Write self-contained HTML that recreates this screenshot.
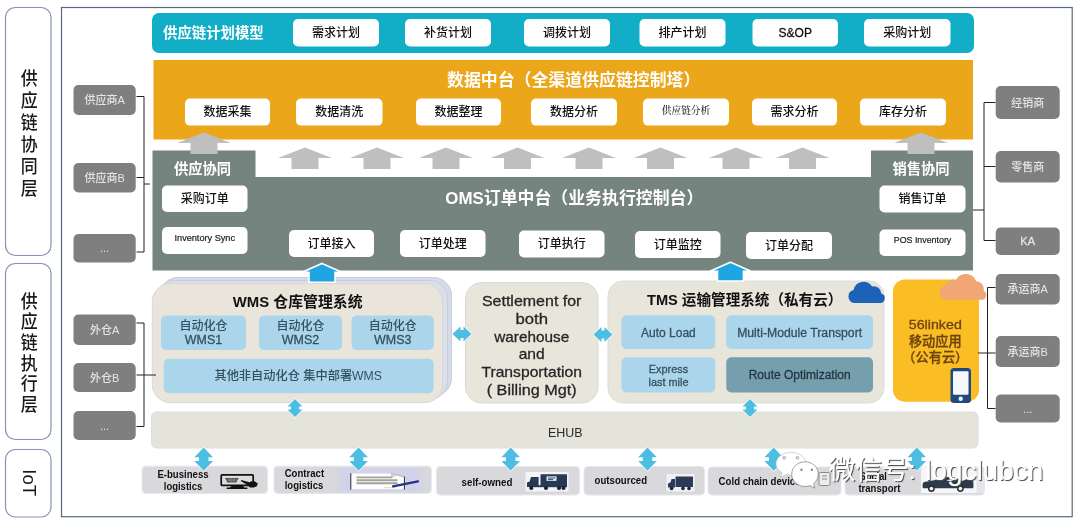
<!DOCTYPE html>
<html lang="zh-CN">
<head>
<meta charset="utf-8">
<title>供应链协同平台架构</title>
<style>
html,body{margin:0;padding:0;background:#fff;}
body{width:1080px;height:521px;overflow:hidden;}
svg{display:block;font-family:"Liberation Sans", "Noto Sans CJK SC", sans-serif;filter:blur(0.6px);}
</style>
</head>
<body>
<svg width="1080" height="521" viewBox="0 0 1080 521">
<rect width="1080" height="521" fill="#fff"/>
<rect x="5.5" y="7.5" width="45.5" height="248" rx="10" ry="10" fill="#fff" stroke="#8792b8" stroke-width="1.2" />
<rect x="5.5" y="263.5" width="45.5" height="176" rx="10" ry="10" fill="#fff" stroke="#8792b8" stroke-width="1.2" />
<rect x="5.5" y="449.5" width="45.5" height="67.5" rx="10" ry="10" fill="#fff" stroke="#8792b8" stroke-width="1.2" />
<rect x="61.5" y="7.5" width="1010.7" height="509.2" rx="0" ry="0" fill="#fff" stroke="#56697f" stroke-width="1.2" />
<text font-size="18.6" fill="#1a1a1a" font-weight="500" text-anchor="middle" dominant-baseline="central" transform="translate(29.2,0) scale(0.91,1)"><tspan x="0" y="78.3">供</tspan><tspan x="0" y="100.45">应</tspan><tspan x="0" y="122.6">链</tspan><tspan x="0" y="144.75">协</tspan><tspan x="0" y="166.9">同</tspan><tspan x="0" y="189.05">层</tspan></text>
<text font-size="18.6" fill="#1a1a1a" font-weight="500" text-anchor="middle" dominant-baseline="central" transform="translate(29.2,0) scale(0.91,1)"><tspan x="0" y="301.5">供</tspan><tspan x="0" y="322.1">应</tspan><tspan x="0" y="342.7">链</tspan><tspan x="0" y="363.3">执</tspan><tspan x="0" y="383.9">行</tspan><tspan x="0" y="404.5">层</tspan></text>
<text x="0" y="0" font-size="18.5" fill="#1a1a1a" text-anchor="middle" dominant-baseline="central" transform="translate(29,482.6) rotate(90)">IoT</text>
<rect x="152" y="13" width="822" height="40" rx="7" ry="7" fill="#12adc6" />
<text x="163" y="33" font-size="14.4" fill="#fff" font-weight="bold" text-anchor="start" dominant-baseline="central" >供应链计划模型</text>
<rect x="293" y="19" width="86" height="27.5" rx="5" ry="5" fill="#fff" />
<text x="336.0" y="32.75" font-size="12" fill="#111" font-weight="500" text-anchor="middle" dominant-baseline="central" >需求计划</text>
<rect x="405" y="19" width="86" height="27.5" rx="5" ry="5" fill="#fff" />
<text x="448.0" y="32.75" font-size="12" fill="#111" font-weight="500" text-anchor="middle" dominant-baseline="central" >补货计划</text>
<rect x="524" y="19" width="86" height="27.5" rx="5" ry="5" fill="#fff" />
<text x="567.0" y="32.75" font-size="12" fill="#111" font-weight="500" text-anchor="middle" dominant-baseline="central" >调拨计划</text>
<rect x="639.5" y="19" width="86.0" height="27.5" rx="5" ry="5" fill="#fff" />
<text x="682.5" y="32.75" font-size="12" fill="#111" font-weight="500" text-anchor="middle" dominant-baseline="central" >排产计划</text>
<rect x="752.5" y="19" width="85.5" height="27.5" rx="5" ry="5" fill="#fff" />
<text x="795.25" y="32.75" font-size="12" fill="#111" font-weight="500" text-anchor="middle" dominant-baseline="central"  stroke="#111" stroke-width="0.28">S&amp;OP</text>
<rect x="864" y="19" width="86.5" height="27.5" rx="5" ry="5" fill="#fff" />
<text x="907.25" y="32.75" font-size="12" fill="#111" font-weight="500" text-anchor="middle" dominant-baseline="central" >采购计划</text>
<rect x="153.5" y="60" width="819.5" height="79.5" rx="0" ry="0" fill="#eca61a" />
<text x="447" y="80.5" font-size="16.9" fill="#fff" font-weight="bold" text-anchor="start" dominant-baseline="central" >数据中台（全渠道供应链控制塔）</text>
<rect x="185" y="98.5" width="85" height="27.099999999999994" rx="5" ry="5" fill="#fff" />
<text x="227.5" y="112.05" font-size="12" fill="#111" font-weight="500" text-anchor="middle" dominant-baseline="central" >数据采集</text>
<rect x="296" y="98.5" width="86.5" height="27.099999999999994" rx="5" ry="5" fill="#fff" />
<text x="339.25" y="112.05" font-size="12" fill="#111" font-weight="500" text-anchor="middle" dominant-baseline="central" >数据清洗</text>
<rect x="416" y="98.5" width="85" height="27.099999999999994" rx="5" ry="5" fill="#fff" />
<text x="458.5" y="112.05" font-size="12" fill="#111" font-weight="500" text-anchor="middle" dominant-baseline="central" >数据整理</text>
<rect x="531" y="98.5" width="86" height="27.099999999999994" rx="5" ry="5" fill="#fff" />
<text x="574.0" y="112.05" font-size="12" fill="#111" font-weight="500" text-anchor="middle" dominant-baseline="central" >数据分析</text>
<rect x="752" y="98.5" width="85" height="27.099999999999994" rx="5" ry="5" fill="#fff" />
<text x="794.5" y="112.05" font-size="12" fill="#111" font-weight="500" text-anchor="middle" dominant-baseline="central" >需求分析</text>
<rect x="860" y="98.5" width="86" height="27.099999999999994" rx="5" ry="5" fill="#fff" />
<text x="903.0" y="112.05" font-size="12" fill="#111" font-weight="500" text-anchor="middle" dominant-baseline="central" >库存分析</text>
<rect x="643" y="98.5" width="86" height="27.099999999999994" rx="5" ry="5" fill="#fff" />
<text x="686.0" y="110.05" font-size="9.7" fill="#222" font-weight="500" text-anchor="middle" dominant-baseline="central" font-family='"Liberation Serif", "Noto Serif CJK SC", serif' >供应链分析</text>
<path d="M305,147.5 L332.0,158.0 L318.5,158.0 L318.5,169 L291.5,169 L291.5,158.0 L278.0,158.0 Z" fill="#bfbfbf"/>
<path d="M377,147.5 L404.0,158.0 L390.5,158.0 L390.5,169 L363.5,169 L363.5,158.0 L350.0,158.0 Z" fill="#bfbfbf"/>
<path d="M446,147.5 L473.0,158.0 L459.5,158.0 L459.5,169 L432.5,169 L432.5,158.0 L419.0,158.0 Z" fill="#bfbfbf"/>
<path d="M517.5,147.5 L544.5,158.0 L531.0,158.0 L531.0,169 L504.0,169 L504.0,158.0 L490.5,158.0 Z" fill="#bfbfbf"/>
<path d="M589,147.5 L616.0,158.0 L602.5,158.0 L602.5,169 L575.5,169 L575.5,158.0 L562.0,158.0 Z" fill="#bfbfbf"/>
<path d="M660.5,147.5 L687.5,158.0 L674.0,158.0 L674.0,169 L647.0,169 L647.0,158.0 L633.5,158.0 Z" fill="#bfbfbf"/>
<path d="M736,147.5 L763.0,158.0 L749.5,158.0 L749.5,169 L722.5,169 L722.5,158.0 L709.0,158.0 Z" fill="#bfbfbf"/>
<path d="M802.5,147.5 L829.5,158.0 L816.0,158.0 L816.0,169 L789.0,169 L789.0,158.0 L775.5,158.0 Z" fill="#bfbfbf"/>
<rect x="152.5" y="177" width="820.5" height="93.5" rx="0" ry="0" fill="#76847f" />
<rect x="152.5" y="150.5" width="103" height="27" rx="0" ry="0" fill="#76847f" />
<rect x="871" y="150.5" width="102" height="27" rx="0" ry="0" fill="#76847f" />
<path d="M204,132.5 L231.0,143.0 L217.5,143.0 L217.5,154 L190.5,154 L190.5,143.0 L177.0,143.0 Z" fill="#bfbfbf"/>
<path d="M921,132.5 L948.0,143.0 L934.5,143.0 L934.5,154 L907.5,154 L907.5,143.0 L894.0,143.0 Z" fill="#bfbfbf"/>
<text x="202.5" y="168.5" font-size="14.3" fill="#fff" font-weight="bold" text-anchor="middle" dominant-baseline="central" >供应协同</text>
<text x="921" y="168.5" font-size="14.3" fill="#fff" font-weight="bold" text-anchor="middle" dominant-baseline="central" >销售协同</text>
<text x="445.3" y="198.2" font-size="16.9" fill="#fff" font-weight="bold" text-anchor="start" dominant-baseline="central" >OMS订单中台（业务执行控制台）</text>
<rect x="162" y="185.5" width="85.5" height="26.5" rx="5" ry="5" fill="#fff" />
<text x="204.75" y="198.75" font-size="12" fill="#111" font-weight="500" text-anchor="middle" dominant-baseline="central" >采购订单</text>
<rect x="162" y="227" width="85.5" height="27" rx="5" ry="5" fill="#fff" />
<text x="174.5" y="238.2" font-size="9" fill="#222" font-weight="500" text-anchor="start" dominant-baseline="central"  stroke="#222" stroke-width="0.2" textLength="60.5" lengthAdjust="spacingAndGlyphs">Inventory Sync</text>
<rect x="879.5" y="185.5" width="86.0" height="27.0" rx="5" ry="5" fill="#fff" />
<text x="922.5" y="199.0" font-size="12" fill="#111" font-weight="500" text-anchor="middle" dominant-baseline="central" >销售订单</text>
<rect x="879.5" y="229.5" width="86.0" height="26.5" rx="5" ry="5" fill="#fff" />
<text x="893.75" y="240.25" font-size="9" fill="#222" font-weight="500" text-anchor="start" dominant-baseline="central"  stroke="#222" stroke-width="0.2" textLength="57.5" lengthAdjust="spacingAndGlyphs">POS Inventory</text>
<rect x="289" y="230" width="85" height="27" rx="5" ry="5" fill="#fff" />
<text x="331.5" y="243.5" font-size="12" fill="#111" font-weight="500" text-anchor="middle" dominant-baseline="central" >订单接入</text>
<rect x="400" y="230" width="85.5" height="27" rx="5" ry="5" fill="#fff" />
<text x="442.75" y="243.5" font-size="12" fill="#111" font-weight="500" text-anchor="middle" dominant-baseline="central" >订单处理</text>
<rect x="519" y="230.5" width="85.5" height="27.0" rx="5" ry="5" fill="#fff" />
<text x="561.75" y="244.0" font-size="12" fill="#111" font-weight="500" text-anchor="middle" dominant-baseline="central" >订单执行</text>
<rect x="635" y="231" width="85.5" height="27" rx="5" ry="5" fill="#fff" />
<text x="677.75" y="244.5" font-size="12" fill="#111" font-weight="500" text-anchor="middle" dominant-baseline="central" >订单监控</text>
<rect x="746" y="232" width="86" height="27" rx="5" ry="5" fill="#fff" />
<text x="789.0" y="245.5" font-size="12" fill="#111" font-weight="500" text-anchor="middle" dominant-baseline="central" >订单分配</text>
<rect x="73.5" y="85" width="62.19999999999999" height="30" rx="5" ry="5" fill="#7f7f7f" />
<text x="104.6" y="100.0" font-size="11" fill="#e4e4e4" font-weight="500" text-anchor="middle" dominant-baseline="central" >供应商A</text>
<rect x="73.5" y="163" width="62.19999999999999" height="29.5" rx="5" ry="5" fill="#7f7f7f" />
<text x="104.6" y="177.75" font-size="11" fill="#e4e4e4" font-weight="500" text-anchor="middle" dominant-baseline="central" >供应商B</text>
<rect x="73.5" y="234" width="62.19999999999999" height="28.5" rx="5" ry="5" fill="#7f7f7f" />
<text x="104.6" y="248.25" font-size="11" fill="#e4e4e4" font-weight="500" text-anchor="middle" dominant-baseline="central" >...</text>
<rect x="73.5" y="314.5" width="62.19999999999999" height="30.5" rx="5" ry="5" fill="#7f7f7f" />
<text x="104.6" y="329.75" font-size="11" fill="#e4e4e4" font-weight="500" text-anchor="middle" dominant-baseline="central" >外仓A</text>
<rect x="73.5" y="363" width="62.19999999999999" height="29" rx="5" ry="5" fill="#7f7f7f" />
<text x="104.6" y="377.5" font-size="11" fill="#e4e4e4" font-weight="500" text-anchor="middle" dominant-baseline="central" >外仓B</text>
<rect x="73.5" y="411" width="62.19999999999999" height="29" rx="5" ry="5" fill="#7f7f7f" />
<text x="104.6" y="425.5" font-size="11" fill="#e4e4e4" font-weight="500" text-anchor="middle" dominant-baseline="central" >...</text>
<rect x="995.7" y="86" width="64.0" height="33" rx="5" ry="5" fill="#7f7f7f" />
<text x="1027.7" y="102.5" font-size="11" fill="#e4e4e4" font-weight="500" text-anchor="middle" dominant-baseline="central" >经销商</text>
<rect x="995.7" y="151" width="64.0" height="31.5" rx="5" ry="5" fill="#7f7f7f" />
<text x="1027.7" y="166.75" font-size="11" fill="#e4e4e4" font-weight="500" text-anchor="middle" dominant-baseline="central" >零售商</text>
<rect x="995.7" y="227.5" width="64.0" height="27.5" rx="5" ry="5" fill="#7f7f7f" />
<text x="1027.7" y="241.25" font-size="11" fill="#e4e4e4" font-weight="500" text-anchor="middle" dominant-baseline="central"  stroke="#e4e4e4" stroke-width="0.28">KA</text>
<rect x="995.7" y="274" width="64.0" height="30.5" rx="5" ry="5" fill="#7f7f7f" />
<text x="1027.7" y="289.25" font-size="11" fill="#e4e4e4" font-weight="500" text-anchor="middle" dominant-baseline="central" >承运商A</text>
<rect x="995.7" y="336" width="64.0" height="31" rx="5" ry="5" fill="#7f7f7f" />
<text x="1027.7" y="351.5" font-size="11" fill="#e4e4e4" font-weight="500" text-anchor="middle" dominant-baseline="central" >承运商B</text>
<rect x="995.7" y="394.5" width="64.0" height="28.0" rx="5" ry="5" fill="#7f7f7f" />
<text x="1027.7" y="408.5" font-size="11" fill="#e4e4e4" font-weight="500" text-anchor="middle" dominant-baseline="central" >...</text>
<rect x="160" y="277.5" width="291.5" height="118.5" rx="18" ry="18" fill="#d6dbe8" stroke="#c8cae2" stroke-width="1" />
<rect x="156.5" y="280.5" width="291" height="119" rx="18" ry="18" fill="#dadfe8" stroke="#cacde2" stroke-width="1" />
<rect x="152.3" y="283.6" width="290.2" height="119" rx="18" ry="18" fill="#e9e5da" stroke="#d6d7e0" stroke-width="1" />
<text x="297.7" y="301.5" font-size="14.9" fill="#111" font-weight="bold" text-anchor="middle" dominant-baseline="central" >WMS 仓库管理系统</text>
<rect x="161" y="315.5" width="85" height="34.5" rx="5" ry="5" fill="#abd5ea" />
<text x="203.5" y="326.3" font-size="12" fill="#33505f" font-weight="500" text-anchor="middle" dominant-baseline="central" >自动化仓</text>
<text x="184.8" y="339.8" font-size="12.3" fill="#33505f" font-weight="500" text-anchor="start" dominant-baseline="central"  stroke="#33505f" stroke-width="0.28" textLength="37.4" lengthAdjust="spacingAndGlyphs">WMS1</text>
<rect x="259" y="315.5" width="83" height="34.5" rx="5" ry="5" fill="#abd5ea" />
<text x="300.5" y="326.3" font-size="12" fill="#33505f" font-weight="500" text-anchor="middle" dominant-baseline="central" >自动化仓</text>
<text x="281.8" y="339.8" font-size="12.3" fill="#33505f" font-weight="500" text-anchor="start" dominant-baseline="central"  stroke="#33505f" stroke-width="0.28" textLength="37.4" lengthAdjust="spacingAndGlyphs">WMS2</text>
<rect x="351.6" y="315.5" width="82.19999999999999" height="34.5" rx="5" ry="5" fill="#abd5ea" />
<text x="392.70000000000005" y="326.3" font-size="12" fill="#33505f" font-weight="500" text-anchor="middle" dominant-baseline="central" >自动化仓</text>
<text x="374.0" y="339.8" font-size="12.3" fill="#33505f" font-weight="500" text-anchor="start" dominant-baseline="central"  stroke="#33505f" stroke-width="0.28" textLength="37.4" lengthAdjust="spacingAndGlyphs">WMS3</text>
<rect x="163.8" y="358.8" width="269.8" height="34.4" rx="5" ry="5" fill="#abd5ea" />
<text x="214.45" y="375.6" font-size="12" fill="#33505f" font-weight="500" text-anchor="start" dominant-baseline="central"  textLength="167.5" lengthAdjust="spacingAndGlyphs">其他非自动化仓 集中部署WMS</text>
<rect x="465.5" y="282.5" width="132.5" height="120.5" rx="16" ry="16" fill="#e8e5db" stroke="#d9d9dc" stroke-width="1" />
<text x="481.95" y="301.2" font-size="14.6" fill="#262626" font-weight="500" text-anchor="start" dominant-baseline="central"  stroke="#262626" stroke-width="0.28" textLength="99.5" lengthAdjust="spacingAndGlyphs">Settlement for</text>
<text x="515.45" y="318.9" font-size="14.6" fill="#262626" font-weight="500" text-anchor="start" dominant-baseline="central"  stroke="#262626" stroke-width="0.28" textLength="32.5" lengthAdjust="spacingAndGlyphs">both</text>
<text x="494.2" y="336.59999999999997" font-size="14.6" fill="#262626" font-weight="500" text-anchor="start" dominant-baseline="central"  stroke="#262626" stroke-width="0.28" textLength="75" lengthAdjust="spacingAndGlyphs">warehouse</text>
<text x="518.7" y="354.29999999999995" font-size="14.6" fill="#262626" font-weight="500" text-anchor="start" dominant-baseline="central"  stroke="#262626" stroke-width="0.28" textLength="26" lengthAdjust="spacingAndGlyphs">and</text>
<text x="481.45" y="372.0" font-size="14.6" fill="#262626" font-weight="500" text-anchor="start" dominant-baseline="central"  stroke="#262626" stroke-width="0.28" textLength="100.5" lengthAdjust="spacingAndGlyphs">Transportation</text>
<text x="486.7" y="389.7" font-size="14.6" fill="#262626" font-weight="500" text-anchor="start" dominant-baseline="central"  stroke="#262626" stroke-width="0.28" textLength="90" lengthAdjust="spacingAndGlyphs">( Billing Mgt)</text>
<rect x="608" y="281" width="276" height="122" rx="15" ry="15" fill="#e8e5db" stroke="#dcdcdc" stroke-width="1" />
<text x="647" y="300.3" font-size="14.6" fill="#111" font-weight="bold" text-anchor="start" dominant-baseline="central" >TMS 运输管理系统（私有云）</text>
<rect x="621.5" y="315.3" width="93.79999999999995" height="33.69999999999999" rx="5" ry="5" fill="#abd5ea" />
<text x="668.4" y="332.54999999999995" font-size="12" fill="#33505f" font-weight="500" text-anchor="middle" dominant-baseline="central"  stroke="#33505f" stroke-width="0.28">Auto Load</text>
<rect x="726.3" y="315.3" width="146.70000000000005" height="33.69999999999999" rx="5" ry="5" fill="#abd5ea" />
<text x="737.15" y="332.54999999999995" font-size="12" fill="#33505f" font-weight="500" text-anchor="start" dominant-baseline="central"  stroke="#33505f" stroke-width="0.28" textLength="125" lengthAdjust="spacingAndGlyphs">Multi-Module Transport</text>
<rect x="621.5" y="357.2" width="93.8" height="35.2" rx="5" ry="5" fill="#abd5ea" />
<text x="648.85" y="369" font-size="11.5" fill="#33505f" font-weight="500" text-anchor="start" dominant-baseline="central"  stroke="#33505f" stroke-width="0.28" textLength="39.3" lengthAdjust="spacingAndGlyphs">Express</text>
<text x="648.5" y="382" font-size="11.5" fill="#33505f" font-weight="500" text-anchor="start" dominant-baseline="central"  stroke="#33505f" stroke-width="0.28" textLength="40" lengthAdjust="spacingAndGlyphs">last mile</text>
<rect x="726.3" y="357.2" width="146.70000000000005" height="35.19999999999999" rx="5" ry="5" fill="#769fad" />
<text x="799.65" y="374.79999999999995" font-size="12" fill="#1f3340" font-weight="500" text-anchor="middle" dominant-baseline="central"  stroke="#1f3340" stroke-width="0.28">Route Optimization</text>
<path d="M854.5,303 a6.600,6.600 0 0 1 -1,-13 a10.200,10.200 0 0 1 18.600,-3.600 a7.600,7.600 0 0 1 9.200,7.200 a4.800,4.800 0 0 1 -1,9.400 Z" fill="#1c63b8"/>
<rect x="893" y="279.5" width="86" height="122.3" rx="12" ry="12" fill="#fabd24" />
<text x="908.8" y="324" font-size="13.6" fill="#6e4310" font-weight="500" text-anchor="start" dominant-baseline="central"  stroke="#6e4310" stroke-width="0.3" textLength="53" lengthAdjust="spacingAndGlyphs">56linked</text>
<text x="935.3" y="341.2" font-size="13.2" fill="#6e4310" font-weight="500" text-anchor="middle" dominant-baseline="central"  stroke="#6e4310" stroke-width="0.3">移动应用</text>
<text x="935.3" y="357.7" font-size="13.2" fill="#6e4310" font-weight="500" text-anchor="middle" dominant-baseline="central"  stroke="#6e4310" stroke-width="0.3">（公有云）</text>
<path d="M946.5,299.8 a7.4,7.4 0 0 1 -1.200,-14.600 a8.500,8.500 0 0 1 10.500,-5.200 a11.200,11.200 0 0 1 20.400,1.200 a8,8 0 0 1 7.600,9.600 a4.800,4.800 0 0 1 -2.200,9 Z" fill="#f1a676"/>
<rect x="950.5" y="368" width="20.5" height="35" rx="3.5" ry="3.5" fill="#1f4a80" />
<rect x="953" y="371.3" width="15.5" height="23.4" rx="1" ry="1" fill="#f4f7fb" />
<circle cx="960.7" cy="398.7" r="2.2" fill="#f0f4f9"/>
<path d="M136.5,96.5 L144,96.5 L144,252 L136.5,252" fill="none" stroke="#222" stroke-width="1"/>
<path d="M136.5,177.5 L144,177.5" fill="none" stroke="#222" stroke-width="1"/>
<path d="M144,184 L150,184" fill="none" stroke="#222" stroke-width="1"/>
<path d="M136.5,323 L144,323 L144,426.5 L136.5,426.5" fill="none" stroke="#222" stroke-width="1"/>
<path d="M136.5,375 L156,375" fill="none" stroke="#222" stroke-width="1"/>
<path d="M995.5,102.5 L984,102.5 L984,240.5 L995.5,240.5" fill="none" stroke="#222" stroke-width="1"/>
<path d="M984,166.5 L995.5,166.5" fill="none" stroke="#222" stroke-width="1"/>
<path d="M973,210 L984,210" fill="none" stroke="#222" stroke-width="1"/>
<path d="M995.5,287.5 L987.5,287.5 L987.5,408.5 L995.5,408.5" fill="none" stroke="#222" stroke-width="1"/>
<path d="M978,353 L995.5,353" fill="none" stroke="#222" stroke-width="1"/>
<path d="M322,263.4 L342.5,272.4 L335.0,272.4 L335.0,282.3 L309.0,282.3 L309.0,272.4 L301.5,272.4 Z" fill="#1ea5e2" stroke="#fff" stroke-width="1.6" stroke-linejoin="miter"/>
<path d="M730.5,262.2 L751.0,271.2 L743.5,271.2 L743.5,281 L717.5,281 L717.5,271.2 L710.0,271.2 Z" fill="#1ea5e2" stroke="#fff" stroke-width="1.6" stroke-linejoin="miter"/>
<rect x="151.5" y="412" width="826.5" height="36" rx="5" ry="5" fill="#e5e4db" stroke="#dadce6" stroke-width="1" />
<text x="548.05" y="432.5" font-size="13.5" fill="#2a2a2a" font-weight="400" text-anchor="start" dominant-baseline="central"  textLength="34.5" lengthAdjust="spacingAndGlyphs">EHUB</text>
<path d="M452.5,334 L460.48,326.5 L460.48,330.0 L463.52,330.0 L463.52,326.5 L471.5,334 L463.52,341.5 L463.52,338.0 L460.48,338.0 L460.48,341.5 Z" fill="#4dbee2" stroke="#fff" stroke-width="1.2" stroke-linejoin="round" paint-order="stroke"/>
<path d="M593.5,334.5 L601.48,327.0 L601.48,330.5 L604.52,330.5 L604.52,327.0 L612.5,334.5 L604.52,342.0 L604.52,338.5 L601.48,338.5 L601.48,342.0 Z" fill="#4dbee2" stroke="#fff" stroke-width="1.2" stroke-linejoin="round" paint-order="stroke"/>
<path d="M295,399 L302.5,406.56 L299.0,406.56 L299.0,409.44 L302.5,409.44 L295,417 L287.5,409.44 L291.0,409.44 L291.0,406.56 L287.5,406.56 Z" fill="#4dbee2" stroke="#fff" stroke-width="1.2" stroke-linejoin="round" paint-order="stroke"/>
<path d="M750,399 L757.5,406.56 L754.0,406.56 L754.0,409.44 L757.5,409.44 L750,417 L742.5,409.44 L746.0,409.44 L746.0,406.56 L742.5,406.56 Z" fill="#4dbee2" stroke="#fff" stroke-width="1.2" stroke-linejoin="round" paint-order="stroke"/>
<rect x="142" y="466.2" width="125.5" height="27.19999999999999" rx="4" ry="4" fill="#d9d9dc" stroke="#e6e6ee" stroke-width="1" />
<rect x="274" y="466.2" width="157.3" height="27.19999999999999" rx="4" ry="4" fill="#d9d9dc" stroke="#e6e6ee" stroke-width="1" />
<rect x="436.5" y="466.5" width="143.0" height="28.5" rx="4" ry="4" fill="#d9d9dc" stroke="#e6e6ee" stroke-width="1" />
<rect x="584" y="466.5" width="120.5" height="28.5" rx="4" ry="4" fill="#d9d9dc" stroke="#e6e6ee" stroke-width="1" />
<rect x="708" y="467" width="133" height="28" rx="4" ry="4" fill="#d9d9dc" stroke="#e6e6ee" stroke-width="1" />
<rect x="845" y="467" width="139.5" height="28" rx="4" ry="4" fill="#d9d9dc" stroke="#e6e6ee" stroke-width="1" />
<text x="157.4" y="474" font-size="10" fill="#111" font-weight="bold" text-anchor="start" dominant-baseline="central"  textLength="51.2" lengthAdjust="spacingAndGlyphs">E-business</text>
<text x="163.75" y="486" font-size="10" fill="#111" font-weight="bold" text-anchor="start" dominant-baseline="central"  textLength="38.5" lengthAdjust="spacingAndGlyphs">logistics</text>
<text x="284.7" y="473.5" font-size="10" fill="#111" font-weight="bold" text-anchor="start" dominant-baseline="central"  textLength="39.4" lengthAdjust="spacingAndGlyphs">Contract</text>
<text x="284.7" y="485.5" font-size="10" fill="#111" font-weight="bold" text-anchor="start" dominant-baseline="central"  textLength="38.7" lengthAdjust="spacingAndGlyphs">logistics</text>
<text x="461.6" y="482.3" font-size="10" fill="#111" font-weight="bold" text-anchor="start" dominant-baseline="central"  textLength="50.8" lengthAdjust="spacingAndGlyphs">self-owned</text>
<text x="594.55" y="480.5" font-size="10" fill="#111" font-weight="bold" text-anchor="start" dominant-baseline="central"  textLength="52.5" lengthAdjust="spacingAndGlyphs">outsourced</text>
<text x="718.6" y="481.5" font-size="10" fill="#111" font-weight="bold" text-anchor="start" dominant-baseline="central"  textLength="82" lengthAdjust="spacingAndGlyphs">Cold chain device</text>
<text x="859.8" y="476.3" font-size="10" fill="#111" font-weight="bold" text-anchor="start" dominant-baseline="central"  textLength="27" lengthAdjust="spacingAndGlyphs">Social</text>
<text x="858.4" y="488.3" font-size="10" fill="#111" font-weight="bold" text-anchor="start" dominant-baseline="central"  textLength="42" lengthAdjust="spacingAndGlyphs">transport</text>
<g><rect x="221.2" y="474.9" width="32" height="10.5" rx="0.8" fill="#dcdcdc" stroke="#111" stroke-width="1.7"/><path d="M225,478 h13.6 l-2.4,4.4 h-8.800 z" fill="#4a4a4a"/><path d="M229,478 l1,4.400 M231.800,478 v4.400 M234.600,478 l-1,4.400 M226,480 h11.600" stroke="#bdbdbd" stroke-width="0.5" fill="none"/><path d="M232,485.600 h11 l1.200,2 h3.200 v1.300 h-20.800 v-1.300 h3.200 z" fill="#111"/><path d="M241.200,480 l8.200,2.200 l2,-1 h3.200 l3.200,2.400 l-1,2.600 l-3,1.200 h-3.800 l-2.600,-2.400 l-6.600,-4 z" fill="#111"/></g>
<defs><linearGradient id="lav" x1="0" x2="1" y1="0" y2="0"><stop offset="0" stop-color="#d1d1ea" stop-opacity="0"/><stop offset="0.12" stop-color="#d1d1ea" stop-opacity="1"/><stop offset="0.85" stop-color="#d1d1ea" stop-opacity="1"/><stop offset="1" stop-color="#d8d8e4" stop-opacity="0.3"/></linearGradient></defs>
<rect x="335" y="468.6" width="94" height="23.2" rx="2" fill="url(#lav)"/>
<g><path d="M350.8,473.6 h41 l12.600,3.400 v12.200 h-53.600 z" fill="#fdfdfd"/><path d="M350.8,473.2 v16.400 M404.400,476.600 v13" stroke="#2a2a2a" stroke-width="1" fill="none"/><path d="M391.800,473.400 v2.600 h4 M391.800,473.600 l12.600,3.400" stroke="#9a9a9a" stroke-width="0.7" fill="none"/><path d="M356.500,477.400 h36 M356.500,480.300 h41 M356.500,483.200 h41" stroke="#a3a39a" stroke-width="1.900"/><path d="M384,487.600 h12" stroke="#e4e4b8" stroke-width="1.200"/><path d="M393,486.300 L418,481.300" stroke="#27328f" stroke-width="2.300" stroke-linecap="round"/></g>
<rect x="525.5" y="472" width="43" height="19.5" rx="1" ry="1" fill="#f4f4f6" />
<g fill="#263a55"><rect x="540.5" y="474.3" width="26.5" height="12" rx="0.6"/><path d="M527,487 v-4.6 l2.6,-1 l1.4,-4.4 h7.6 v10 z"/><rect x="534" y="485.2" width="33" height="2"/><rect x="546.5" y="476.3" width="10" height="4.6" fill="#dfe6f0"/><circle cx="531.3" cy="488" r="2.1" fill="#1c2430"/><circle cx="546" cy="488" r="2.1" fill="#1c2430"/><circle cx="559" cy="488" r="2.1" fill="#1c2430"/><circle cx="563.5" cy="488" r="2.1" fill="#1c2430"/></g>
<path d="M548,478 h7 M548,479.6 h5" stroke="#263a55" stroke-width="0.9"/>
<rect x="666.5" y="474" width="28" height="17.5" rx="1" ry="1" fill="#f1f1f3" />
<g fill="#2a3b5a"><rect x="675.5" y="476.5" width="17.5" height="10.6" rx="0.6"/><path d="M668,487.4 v-4 l2.4,-1 l1.2,-3.4 h3.4 v8.4 z"/><circle cx="671.6" cy="488.4" r="1.8" fill="#1c2430"/><circle cx="683" cy="488.4" r="1.8" fill="#1c2430"/><circle cx="689" cy="488.4" r="1.8" fill="#1c2430"/></g>
<g fill="none" stroke="#8a8a8a" stroke-width="1"><rect x="819" y="472.5" width="11" height="13" rx="1.5" fill="#ececec"/><path d="M822,476 h5 M822,479 h5"/></g>
<rect x="976" y="467.5" width="8.5" height="25.5" rx="1" ry="1" fill="#e5e5e9" />
<rect x="921" y="467.3" width="55.5" height="25.7" rx="1" ry="1" fill="#f6f6f8" />
<g><path d="M922.6,487.6 v-3.600 q0.200,-1.800 2.600,-2.300 l9,-1.400 q3,-0.300 5.600,-1.200 l5,-1.600 q2.400,-0.600 5,-0.400 l6,0.600 q2,0.300 3.600,1.400 l3,2 l7,-3 l2.600,0.600 l1.400,3.600 v5 q0,1 -1,1 h-48.800 q-1,0 -1,-0.700 z" fill="#2c3a4a"/><path d="M946.5,480.400 q4,-1.800 8,-1 q-1,1.800 -4,2.200 z" fill="#e8ecf0"/><circle cx="931.4" cy="488.6" r="3.400" fill="#222a33"/><circle cx="960.4" cy="488.6" r="3.400" fill="#222a33"/><circle cx="931.4" cy="488.6" r="1.900" fill="#f0f0f2"/><circle cx="960.4" cy="488.6" r="1.900" fill="#f0f0f2"/></g>
<path d="M203.7,447.5 L213.0,457.286 L208.45,457.286 L208.45,461.014 L213.0,461.014 L203.7,470.8 L194.39999999999998,461.014 L198.95,461.014 L198.95,457.286 L194.39999999999998,457.286 Z" fill="#4dbee2" stroke="#fff" stroke-width="1.2" stroke-linejoin="round" paint-order="stroke"/>
<path d="M358.6,447.5 L367.90000000000003,457.286 L363.35,457.286 L363.35,461.014 L367.90000000000003,461.014 L358.6,470.8 L349.3,461.014 L353.85,461.014 L353.85,457.286 L349.3,457.286 Z" fill="#4dbee2" stroke="#fff" stroke-width="1.2" stroke-linejoin="round" paint-order="stroke"/>
<path d="M510.7,447.5 L520.0,457.286 L515.45,457.286 L515.45,461.014 L520.0,461.014 L510.7,470.8 L501.4,461.014 L505.95,461.014 L505.95,457.286 L501.4,457.286 Z" fill="#4dbee2" stroke="#fff" stroke-width="1.2" stroke-linejoin="round" paint-order="stroke"/>
<path d="M647.5,447.5 L656.8,457.286 L652.25,457.286 L652.25,461.014 L656.8,461.014 L647.5,470.8 L638.2,461.014 L642.75,461.014 L642.75,457.286 L638.2,457.286 Z" fill="#4dbee2" stroke="#fff" stroke-width="1.2" stroke-linejoin="round" paint-order="stroke"/>
<path d="M773.7,447.5 L783.0,457.286 L778.45,457.286 L778.45,461.014 L783.0,461.014 L773.7,470.8 L764.4000000000001,461.014 L768.95,461.014 L768.95,457.286 L764.4000000000001,457.286 Z" fill="#4dbee2" stroke="#fff" stroke-width="1.2" stroke-linejoin="round" paint-order="stroke"/>
<path d="M916.8,447.5 L926.0999999999999,457.286 L921.55,457.286 L921.55,461.014 L926.0999999999999,461.014 L916.8,470.8 L907.5,461.014 L912.05,461.014 L912.05,457.286 L907.5,457.286 Z" fill="#4dbee2" stroke="#fff" stroke-width="1.2" stroke-linejoin="round" paint-order="stroke"/>
<g stroke="#b8b8b8" stroke-width="0.6" fill="#fff"><path d="M791,452.400 c8.400,0 15,5 15,11.400 c0,6.400 -6.600,11.400 -15,11.400 c-1.800,0 -3.500,-0.200 -5.100,-0.700 l-5.500,2.900 l1.500,-4.800 c-3.600,-2.100 -5.900,-5.200 -5.900,-8.800 c0,-6.400 6.600,-11.400 15,-11.400 z"/><path d="M805,461.800 c7.400,0 13.300,5.500 13.300,12.400 c0,3.800 -1.800,7.200 -4.700,9.400 l1.300,4.600 l-4.900,-2.600 c-1.600,0.600 -3.200,0.900 -5,0.900 c-7.400,0 -13.300,-5.500 -13.300,-12.300 c0,-6.900 5.900,-12.400 13.300,-12.400 z" stroke="#6a6a6a"/></g>
<g fill="#fff" stroke="#777" stroke-width="0.7"><circle cx="784.2" cy="457.8" r="1.3"/><circle cx="797.4" cy="457.8" r="1.3"/></g>
<g fill="#8a8a8a"><circle cx="801.5" cy="469.8" r="1.2"/><circle cx="811.9" cy="469.8" r="1.2"/></g>
<defs><filter id="ws" x="-5%" y="-20%" width="110%" height="140%"><feDropShadow dx="1.1" dy="1.1" stdDeviation="0.15" flood-color="#505050" flood-opacity="1"/></filter></defs>
<text y="470.3" font-size="26.6" fill="#fff" font-weight="400" dominant-baseline="central" filter="url(#ws)"><tspan x="828.8">微信号: </tspan><tspan x="925.2" font-size="27.6" textLength="118" lengthAdjust="spacingAndGlyphs">logclubcn</tspan></text>
</svg>
</body>
</html>
